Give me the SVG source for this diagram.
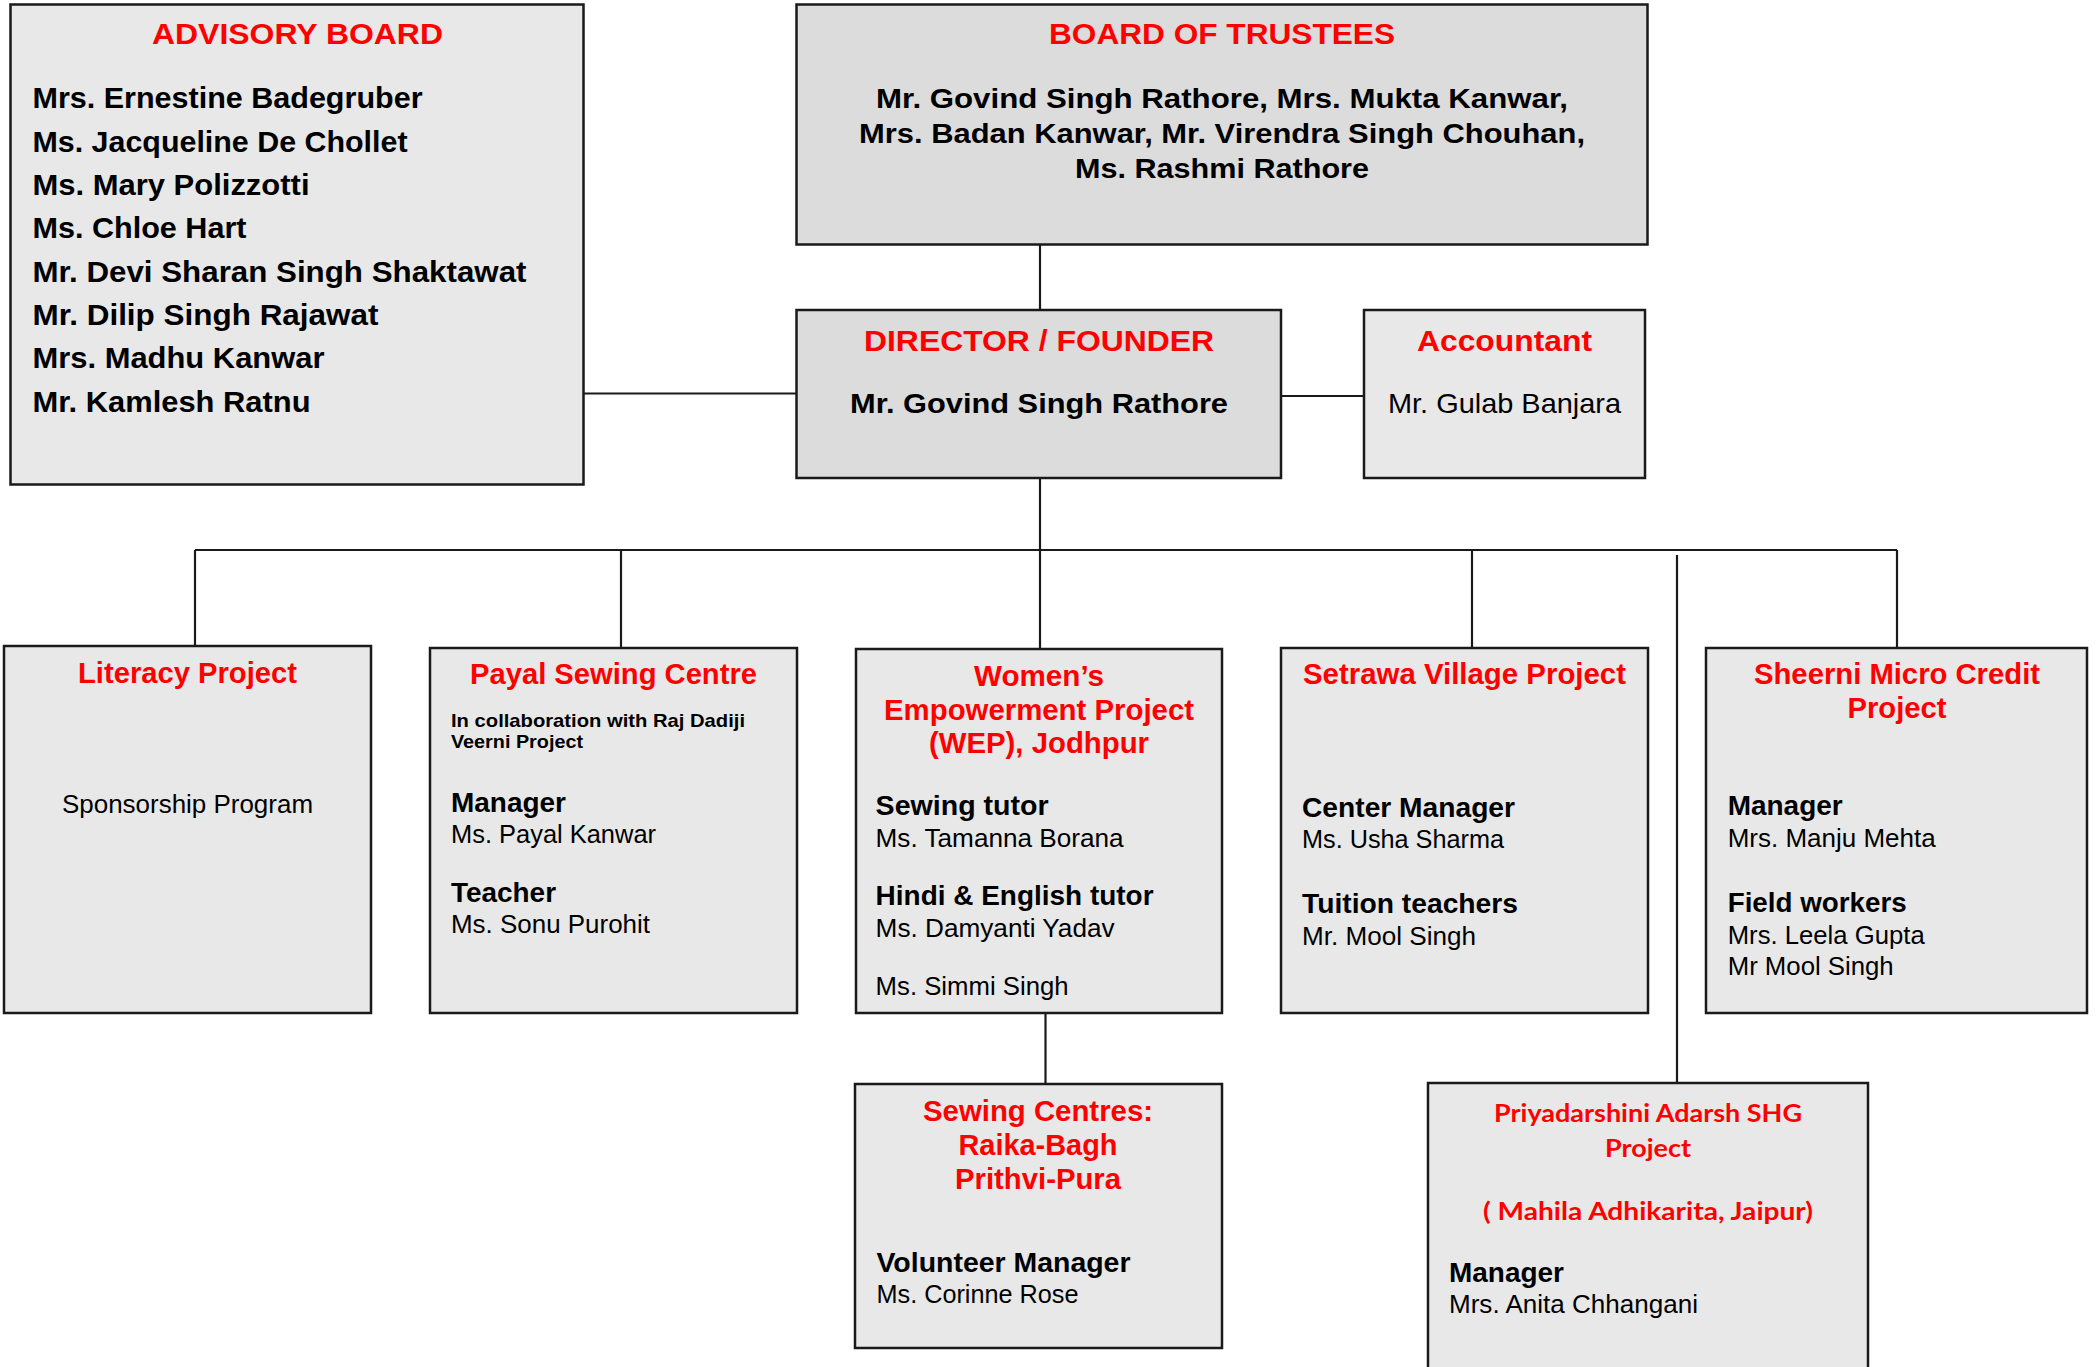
<svg xmlns="http://www.w3.org/2000/svg" width="2098" height="1367" viewBox="0 0 2098 1367">
<style>
.box{stroke:#1a1a1a;stroke-width:2.5}
.lt{fill:#e8e8e8}
.dk{fill:#dcdcdc}
.con{stroke:#1a1a1a;stroke-width:2.2;fill:none}
text{font-family:"Liberation Sans",Arial,sans-serif;fill:#000}
.t{font-weight:bold;font-size:29px;fill:#ff0000;text-anchor:middle}
.n{font-weight:bold;font-size:30px}
.bt{font-weight:bold;font-size:28px;text-anchor:middle}
.b{font-weight:bold;font-size:27px}
.r{font-size:25.5px}
.rm{font-size:27px;text-anchor:middle}
.s{font-weight:bold;font-size:19px}
.c{font-family:Lato,"Liberation Sans",sans-serif;font-weight:bold;font-size:25px;fill:#ff0000;text-anchor:middle}
</style>
<rect width="2098" height="1367" fill="#ffffff"/>
<g id="connectors">
<path class="con" d="M1040 244.5V310"/>
<path class="con" d="M583.5 393.5H796.5"/>
<path class="con" d="M1281 396H1364"/>
<path class="con" d="M1040 478V550"/>
<path class="con" d="M195 550H1897"/>
<path class="con" d="M195 550V646"/>
<path class="con" d="M621 550V648"/>
<path class="con" d="M1040 550V649"/>
<path class="con" d="M1472 550V648"/>
<path class="con" d="M1897 550V648"/>
<path class="con" d="M1677 555V1083"/>
<path class="con" d="M1045.5 1013V1084"/>
</g>
<g id="advisory">
<rect class="box lt" x="10.5" y="4.5" width="573" height="480"/>
<text class="t" x="297.5" y="44" textLength="291" lengthAdjust="spacingAndGlyphs">ADVISORY BOARD</text>
<text class="n" x="32.5" y="108" textLength="390" lengthAdjust="spacingAndGlyphs">Mrs. Ernestine Badegruber</text>
<text class="n" x="32.5" y="152" textLength="375" lengthAdjust="spacingAndGlyphs">Ms. Jacqueline De Chollet</text>
<text class="n" x="32.5" y="195" textLength="277" lengthAdjust="spacingAndGlyphs">Ms. Mary Polizzotti</text>
<text class="n" x="32.5" y="238" textLength="214" lengthAdjust="spacingAndGlyphs">Ms. Chloe Hart</text>
<text class="n" x="32.5" y="282" textLength="494" lengthAdjust="spacingAndGlyphs">Mr. Devi Sharan Singh Shaktawat</text>
<text class="n" x="32.5" y="325" textLength="346" lengthAdjust="spacingAndGlyphs">Mr. Dilip Singh Rajawat</text>
<text class="n" x="32.5" y="368" textLength="292" lengthAdjust="spacingAndGlyphs">Mrs. Madhu Kanwar</text>
<text class="n" x="32.5" y="412" textLength="278" lengthAdjust="spacingAndGlyphs">Mr. Kamlesh Ratnu</text>
</g>
<g id="trustees">
<rect class="box dk" x="796.5" y="4.5" width="851" height="240"/>
<text class="t" x="1222" y="44" textLength="346" lengthAdjust="spacingAndGlyphs">BOARD OF TRUSTEES</text>
<text class="bt" x="1222" y="108" textLength="692" lengthAdjust="spacingAndGlyphs">Mr. Govind Singh Rathore, Mrs. Mukta Kanwar,</text>
<text class="bt" x="1222" y="143" textLength="726" lengthAdjust="spacingAndGlyphs">Mrs. Badan Kanwar, Mr. Virendra Singh Chouhan,</text>
<text class="bt" x="1222" y="178" textLength="294" lengthAdjust="spacingAndGlyphs">Ms. Rashmi Rathore</text>
</g>
<g id="director">
<rect class="box dk" x="796.5" y="310" width="484.5" height="168"/>
<text class="t" x="1039" y="351" textLength="350" lengthAdjust="spacingAndGlyphs">DIRECTOR / FOUNDER</text>
<text class="bt" x="1039" y="413" textLength="378" lengthAdjust="spacingAndGlyphs">Mr. Govind Singh Rathore</text>
</g>
<g id="accountant">
<rect class="box lt" x="1364" y="310" width="281" height="168"/>
<text class="t" x="1504.5" y="351" textLength="175" lengthAdjust="spacingAndGlyphs">Accountant</text>
<text class="rm" x="1504.5" y="413" textLength="233" lengthAdjust="spacingAndGlyphs" style="font-size:28.5px">Mr. Gulab Banjara</text>
</g>
<g id="literacy">
<rect class="box lt" x="4" y="646" width="367" height="367"/>
<text class="t" x="187.5" y="683" textLength="219" lengthAdjust="spacingAndGlyphs">Literacy Project</text>
<text class="rm" x="187.5" y="813" textLength="251" lengthAdjust="spacingAndGlyphs" style="font-size:26.5px">Sponsorship Program</text>
</g>
<g id="payal">
<rect class="box lt" x="430" y="648" width="367" height="365"/>
<text class="t" x="613.5" y="684" textLength="287" lengthAdjust="spacingAndGlyphs">Payal Sewing Centre</text>
<text class="s" x="451" y="727" textLength="294" lengthAdjust="spacingAndGlyphs">In collaboration with Raj Dadiji</text>
<text class="s" x="451" y="748" textLength="132" lengthAdjust="spacingAndGlyphs">Veerni Project</text>
<text class="b" x="451" y="812" textLength="115" lengthAdjust="spacingAndGlyphs">Manager</text>
<text class="r" x="451" y="843" textLength="205" lengthAdjust="spacingAndGlyphs">Ms. Payal Kanwar</text>
<text class="b" x="451" y="902" textLength="105" lengthAdjust="spacingAndGlyphs">Teacher</text>
<text class="r" x="451" y="933" textLength="199" lengthAdjust="spacingAndGlyphs">Ms. Sonu Purohit</text>
</g>
<g id="wep">
<rect class="box lt" x="856" y="649" width="366" height="364"/>
<text class="t" x="1039" y="686" textLength="130" lengthAdjust="spacingAndGlyphs">Women’s</text>
<text class="t" x="1039" y="720" textLength="310" lengthAdjust="spacingAndGlyphs">Empowerment Project</text>
<text class="t" x="1039" y="753" textLength="220" lengthAdjust="spacingAndGlyphs">(WEP), Jodhpur</text>
<text class="b" x="875.6" y="815" textLength="173" lengthAdjust="spacingAndGlyphs">Sewing tutor</text>
<text class="r" x="875.6" y="847" textLength="248" lengthAdjust="spacingAndGlyphs">Ms. Tamanna Borana</text>
<text class="b" x="875.6" y="905" textLength="278" lengthAdjust="spacingAndGlyphs">Hindi &amp; English tutor</text>
<text class="r" x="875.6" y="937" textLength="239" lengthAdjust="spacingAndGlyphs">Ms. Damyanti Yadav</text>
<text class="r" x="875.6" y="995" textLength="193" lengthAdjust="spacingAndGlyphs">Ms. Simmi Singh</text>
</g>
<g id="setrawa">
<rect class="box lt" x="1281" y="648" width="367" height="365"/>
<text class="t" x="1464.5" y="684" textLength="323" lengthAdjust="spacingAndGlyphs">Setrawa Village Project</text>
<text class="b" x="1302" y="817" textLength="213" lengthAdjust="spacingAndGlyphs">Center Manager</text>
<text class="r" x="1302" y="848" textLength="202" lengthAdjust="spacingAndGlyphs">Ms. Usha Sharma</text>
<text class="b" x="1302" y="913" textLength="216" lengthAdjust="spacingAndGlyphs">Tuition teachers</text>
<text class="r" x="1302" y="945" textLength="174" lengthAdjust="spacingAndGlyphs">Mr. Mool Singh</text>
</g>
<g id="sheerni">
<rect class="box lt" x="1706" y="648" width="381" height="365"/>
<text class="t" x="1897" y="684" textLength="286" lengthAdjust="spacingAndGlyphs">Sheerni Micro Credit</text>
<text class="t" x="1897" y="718" textLength="99" lengthAdjust="spacingAndGlyphs">Project</text>
<text class="b" x="1727.7" y="815" textLength="115" lengthAdjust="spacingAndGlyphs">Manager</text>
<text class="r" x="1727.7" y="847" textLength="208" lengthAdjust="spacingAndGlyphs">Mrs. Manju Mehta</text>
<text class="b" x="1727.7" y="912" textLength="179" lengthAdjust="spacingAndGlyphs">Field workers</text>
<text class="r" x="1727.7" y="944" textLength="197" lengthAdjust="spacingAndGlyphs">Mrs. Leela Gupta</text>
<text class="r" x="1727.7" y="975" textLength="166" lengthAdjust="spacingAndGlyphs">Mr Mool Singh</text>
</g>
<g id="sewing-centres">
<rect class="box lt" x="855" y="1084" width="367" height="264"/>
<text class="t" x="1038" y="1121" textLength="230" lengthAdjust="spacingAndGlyphs">Sewing Centres:</text>
<text class="t" x="1038" y="1155" textLength="159" lengthAdjust="spacingAndGlyphs">Raika-Bagh</text>
<text class="t" x="1038" y="1189" textLength="166" lengthAdjust="spacingAndGlyphs">Prithvi-Pura</text>
<text class="b" x="876.5" y="1272" textLength="254" lengthAdjust="spacingAndGlyphs">Volunteer Manager</text>
<text class="r" x="876.5" y="1303" textLength="202" lengthAdjust="spacingAndGlyphs">Ms. Corinne Rose</text>
</g>
<g id="priyadarshini">
<rect class="box lt" x="1428" y="1083" width="440" height="300"/>
<text class="c" x="1648" y="1122" textLength="308" lengthAdjust="spacingAndGlyphs">Priyadarshini Adarsh SHG</text>
<text class="c" x="1648" y="1157" textLength="86" lengthAdjust="spacingAndGlyphs">Project</text>
<text class="c" x="1648" y="1220" textLength="330" lengthAdjust="spacingAndGlyphs">( Mahila Adhikarita, Jaipur)</text>
<text class="b" x="1449" y="1282" textLength="115" lengthAdjust="spacingAndGlyphs">Manager</text>
<text class="r" x="1449" y="1313" textLength="249" lengthAdjust="spacingAndGlyphs">Mrs. Anita Chhangani</text>
</g>
</svg>
